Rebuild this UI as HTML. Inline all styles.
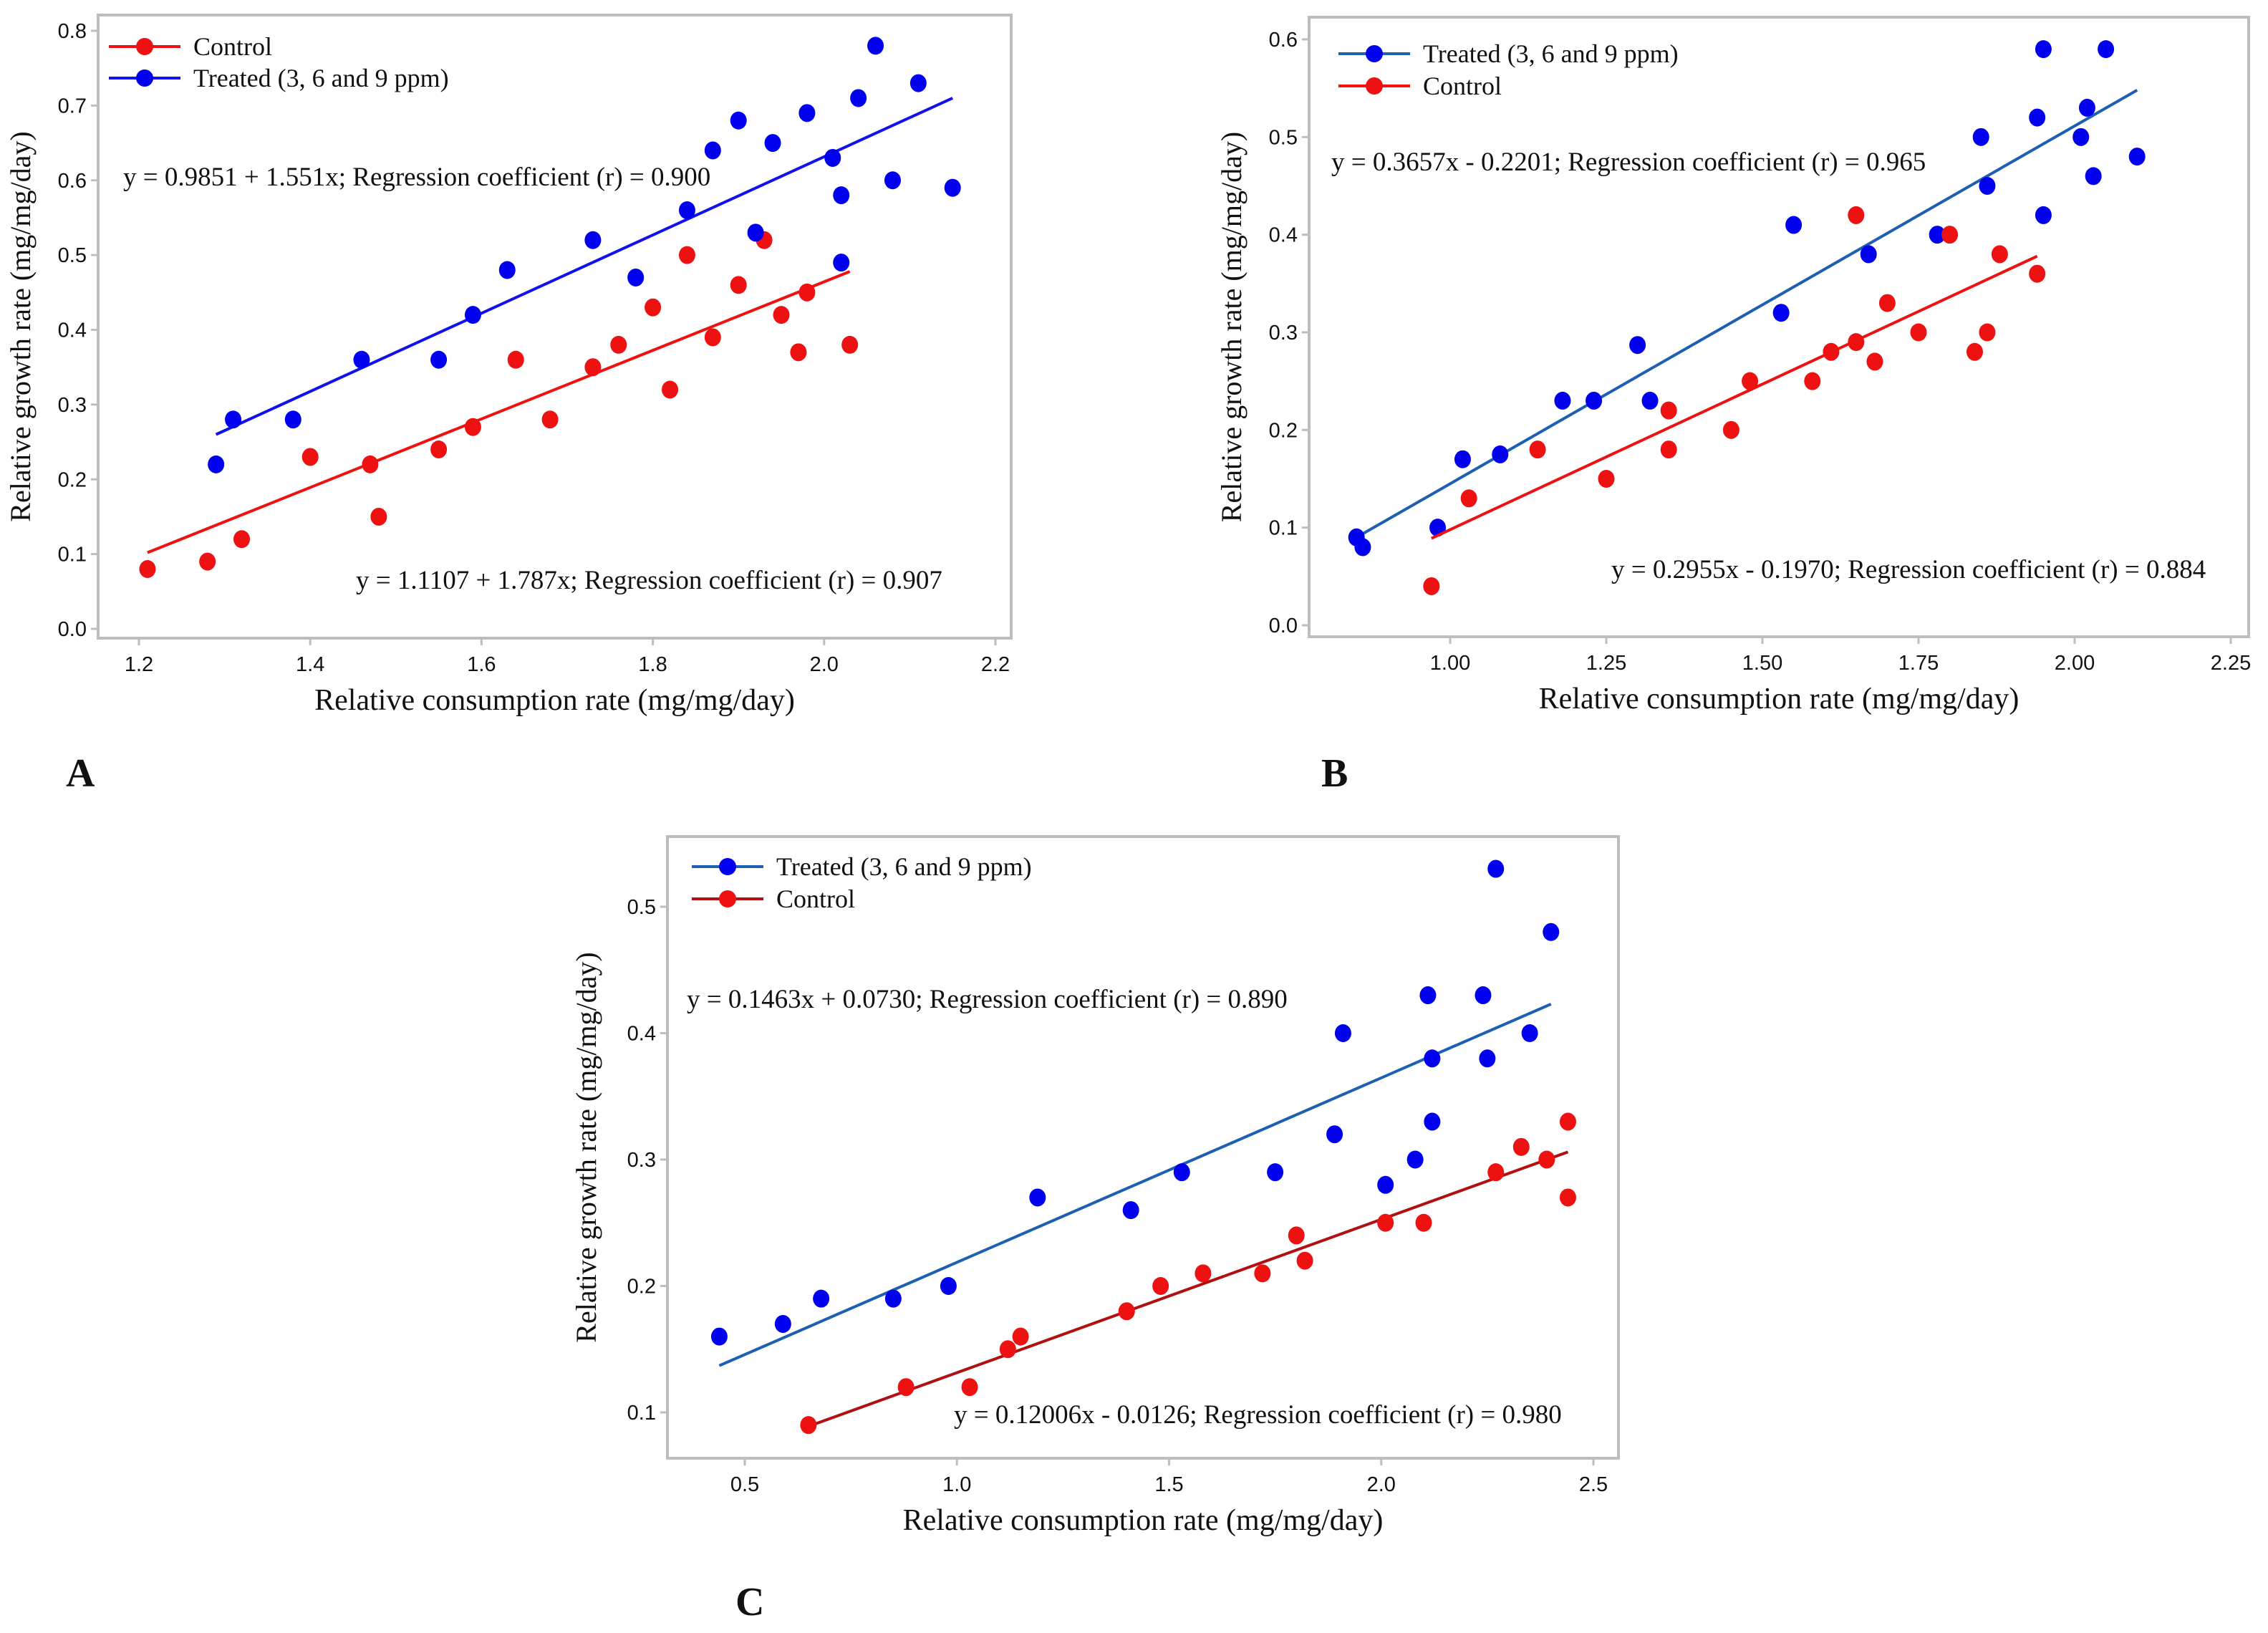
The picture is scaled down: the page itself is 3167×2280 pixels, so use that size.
<!DOCTYPE html>
<html><head><meta charset="utf-8"><style>
html,body{margin:0;padding:0;background:#fff;}
svg{display:block;}
.tick{font-family:"Liberation Sans",sans-serif;font-size:29px;fill:#111;}
.ser{font-family:"Liberation Serif",serif;fill:#111;}
</style></head><body>
<svg id="fig" width="3167" height="2280" viewBox="0 0 3167 2280" xmlns="http://www.w3.org/2000/svg">
<text x="92" y="1098" class="ser" font-size="56" font-weight="bold">A</text>
<text x="1845" y="1098" class="ser" font-size="56" font-weight="bold">B</text>
<text x="1027" y="2255" class="ser" font-size="56" font-weight="bold">C</text>
</svg>
<script>
// Panel A data
const aXTicks=[1.2,1.4,1.6,1.8,2.0,2.2];
const aYTicks=[0.0,0.1,0.2,0.3,0.4,0.5,0.6,0.7,0.8];
const aCtrlX=[1.21,1.28,1.32,1.40,1.47,1.48,1.55,1.59,1.64,1.68,1.73,1.76,1.80,1.82,1.84,1.87,1.90,1.93,1.95,1.97,1.98,2.03];
const aCtrlY=[0.08,0.09,0.12,0.23,0.22,0.15,0.24,0.27,0.36,0.28,0.35,0.38,0.43,0.32,0.50,0.39,0.46,0.52,0.42,0.37,0.45,0.38];
const aTrtX=[1.29,1.31,1.38,1.46,1.55,1.59,1.63,1.73,1.78,1.84,1.87,1.90,1.92,1.94,1.98,2.01,2.02,2.02,2.04,2.06,2.08,2.11,2.15];
const aTrtY=[0.22,0.28,0.28,0.36,0.36,0.42,0.48,0.52,0.47,0.56,0.64,0.68,0.53,0.65,0.69,0.63,0.58,0.49,0.71,0.78,0.60,0.73,0.59];
const aCtrlFitX=[1.21,2.03], aCtrlFitY=[0.102,0.478];
const aTrtFitX=[1.29,2.15], aTrtFitY=[0.26,0.71];
// Panel B data
const bXTicks=[1.00,1.25,1.50,1.75,2.00,2.25];
const bYTicks=[0.0,0.1,0.2,0.3,0.4,0.5,0.6];
const bTrtX=[0.85,0.86,0.98,1.02,1.08,1.18,1.23,1.30,1.32,1.53,1.55,1.67,1.78,1.85,1.86,1.94,1.95,1.95,2.01,2.02,2.03,2.05,2.10];
const bTrtY=[0.09,0.08,0.10,0.17,0.175,0.23,0.23,0.287,0.23,0.32,0.41,0.38,0.40,0.50,0.45,0.52,0.59,0.42,0.50,0.53,0.46,0.59,0.48];
const bCtrlX=[0.97,1.03,1.14,1.25,1.35,1.35,1.45,1.48,1.58,1.61,1.65,1.65,1.68,1.70,1.75,1.80,1.84,1.86,1.88,1.94];
const bCtrlY=[0.04,0.13,0.18,0.15,0.22,0.18,0.20,0.25,0.25,0.28,0.42,0.29,0.27,0.33,0.30,0.40,0.28,0.30,0.38,0.36];
const bTrtFitX=[0.85,2.10], bTrtFitY=[0.09,0.548];
const bCtrlFitX=[0.97,1.94], bCtrlFitY=[0.089,0.378];
// Panel C data
const cXTicks=[0.5,1.0,1.5,2.0,2.5];
const cYTicks=[0.1,0.2,0.3,0.4,0.5];
const cTrtX=[0.44,0.59,0.68,0.85,0.98,1.19,1.41,1.53,1.75,1.89,1.91,2.01,2.08,2.11,2.12,2.12,2.24,2.25,2.27,2.35,2.40];
const cTrtY=[0.16,0.17,0.19,0.19,0.20,0.27,0.26,0.29,0.29,0.32,0.40,0.28,0.30,0.43,0.38,0.33,0.43,0.38,0.53,0.40,0.48];
const cCtrlX=[0.65,0.88,1.03,1.12,1.15,1.40,1.48,1.58,1.72,1.80,1.82,2.01,2.10,2.27,2.33,2.39,2.44,2.44];
const cCtrlY=[0.09,0.12,0.12,0.15,0.16,0.18,0.20,0.21,0.21,0.24,0.22,0.25,0.25,0.29,0.31,0.30,0.33,0.27];
const cTrtFitX=[0.44,2.40], cTrtFitY=[0.137,0.423];
const cCtrlFitX=[0.65,2.44], cCtrlFitY=[0.089,0.306];

const NS="http://www.w3.org/2000/svg";
const svg=document.getElementById('fig');
function mk(tag,attrs,parent){const e=document.createElementNS(NS,tag);for(const k in attrs)e.setAttribute(k,attrs[k]);(parent||svg).appendChild(e);return e;}

function panel(p){
  const g=mk('g',{});
  
  
  const sx=v=>p.x0+(v-p.xv0)/(p.xv1-p.xv0)*(p.x1-p.x0);
  const sy=v=>p.y0+(v-p.yv0)/(p.yv1-p.yv0)*(p.y1-p.y0);
  const fr=mk('rect',{x:p.fl,y:p.ft,width:p.fr-p.fl,height:p.fb-p.ft,fill:'none',stroke:'#bdbdbd','stroke-width':4},g);
  
  
  p.xt.forEach(v=>{
    const X=sx(v);
    mk('line',{x1:X,y1:p.fb,x2:X,y2:p.fb+10,stroke:'#bdbdbd','stroke-width':3},g);
    const t=mk('text',{x:X,y:p.fb+46,'text-anchor':'middle',class:'tick'},g);
    t.textContent=v.toFixed(p.xd);
    
    
  });
  p.yt.forEach(v=>{
    const Y=sy(v);
    mk('line',{x1:p.fl-10,y1:Y,x2:p.fl,y2:Y,stroke:'#bdbdbd','stroke-width':3},g);
    const t=mk('text',{x:p.fl-16,y:Y+10,'text-anchor':'end',class:'tick'},g);
    t.textContent=v.toFixed(1);
    
    
  });
  const xl=mk('text',{x:(p.fl+p.fr)/2,y:p.fb+100,'text-anchor':'middle',class:'ser','font-size':42},g);
  xl.textContent='Relative consumption rate (mg/mg/day)';
  
  
  const yl=mk('text',{x:0,y:0,'text-anchor':'middle',class:'ser','font-size':40,transform:`translate(${p.ylx},${(p.ft+p.fb)/2}) rotate(-90)`},g);
  yl.textContent='Relative growth rate (mg/mg/day)';
  
  
  p.series.forEach(s=>{
    const ln=mk('line',{x1:sx(s.fx[0]),y1:sy(s.fy[0]),x2:sx(s.fx[1]),y2:sy(s.fy[1]),stroke:s.lc,'stroke-width':4},g);
    
    
    s.xs.forEach((v,i)=>{
      const c=mk('ellipse',{cx:sx(v),cy:sy(s.ys[i]),rx:11.5,ry:12.5,fill:s.mc},g);
      
      
    });
    const lg=mk('g',{},g);
    
    
    mk('line',{x1:p.lgx,y1:s.ly,x2:p.lgx+100,y2:s.ly,stroke:s.lc,'stroke-width':4},lg);
    mk('ellipse',{cx:p.lgx+50,cy:s.ly,rx:12,ry:12,fill:s.mc},lg);
    const lt=mk('text',{x:p.lgx+118,y:s.ly+12,class:'ser','font-size':36},lg);
    lt.textContent=s.label;
    const eq=mk('text',{x:s.ex,y:s.ey,class:'ser','font-size':37},g);
    eq.textContent=s.eq;
    
    
  });
}

const RED='#ee1111', BLUE='#0000ee';
panel({id:'panel-a',x0:194,x1:1390,xv0:1.2,xv1:2.2,y0:878,y1:43,yv0:0,yv1:0.8,
  fl:137,fr:1412,ft:21,fb:891,xt:aXTicks,xd:1,yt:aYTicks,ylx:42,lgx:152,
  series:[
   {name:'control',label:'Control',xs:aCtrlX,ys:aCtrlY,fx:aCtrlFitX,fy:aCtrlFitY,lc:'#ee1111',mc:RED,ly:65,
    eq:'y = 1.1107 + 1.787x; Regression coefficient (r) = 0.907',ex:497,ey:822},
   {name:'treated',label:'Treated (3, 6 and 9 ppm)',xs:aTrtX,ys:aTrtY,fx:aTrtFitX,fy:aTrtFitY,lc:'#1111ee',mc:BLUE,ly:109,
    eq:'y = 0.9851 + 1.551x; Regression coefficient (r) = 0.900',ex:172,ey:259}]});
panel({id:'panel-b',x0:2025,x1:3115,xv0:1.0,xv1:2.25,y0:873,y1:55,yv0:0,yv1:0.6,
  fl:1828,fr:3140,ft:24,fb:889,xt:bXTicks,xd:2,yt:bYTicks,ylx:1733,lgx:1869,
  series:[
   {name:'treated',label:'Treated (3, 6 and 9 ppm)',xs:bTrtX,ys:bTrtY,fx:bTrtFitX,fy:bTrtFitY,lc:'#1d5fb0',mc:BLUE,ly:75,
    eq:'y = 0.3657x - 0.2201; Regression coefficient (r) = 0.965',ex:1859,ey:238},
   {name:'control',label:'Control',xs:bCtrlX,ys:bCtrlY,fx:bCtrlFitX,fy:bCtrlFitY,lc:'#ee1111',mc:RED,ly:120,
    eq:'y = 0.2955x - 0.1970; Regression coefficient (r) = 0.884',ex:2250,ey:807}]});
panel({id:'panel-c',x0:1040,x1:2225,xv0:0.5,xv1:2.5,y0:1972,y1:1266,yv0:0.1,yv1:0.5,
  fl:932,fr:2260,ft:1168,fb:2036,xt:cXTicks,xd:1,yt:cYTicks,ylx:832,lgx:966,
  series:[
   {name:'treated',label:'Treated (3, 6 and 9 ppm)',xs:cTrtX,ys:cTrtY,fx:cTrtFitX,fy:cTrtFitY,lc:'#1d5fb0',mc:BLUE,ly:1210,
    eq:'y = 0.1463x +  0.0730; Regression coefficient (r) = 0.890',ex:959,ey:1407},
   {name:'control',label:'Control',xs:cCtrlX,ys:cCtrlY,fx:cCtrlFitX,fy:cCtrlFitY,lc:'#b01010',mc:RED,ly:1255,
    eq:'y = 0.12006x - 0.0126; Regression coefficient (r) = 0.980',ex:1332,ey:1987}]});
</script>
</body></html>
